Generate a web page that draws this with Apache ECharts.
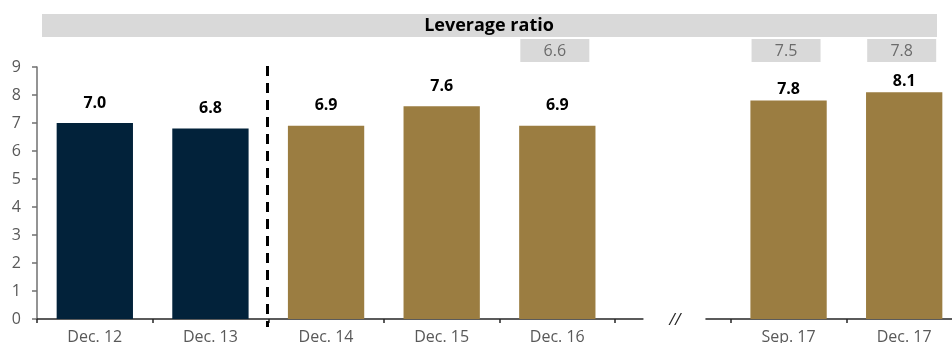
<!DOCTYPE html>
<html>
<head>
<meta charset="utf-8">
<script src="https://cdn.jsdelivr.net/npm/echarts@6/dist/echarts.min.js"></script>
<style>
  html, body { margin: 0; padding: 0; background: #ffffff; overflow: hidden; }
  #chart { width: 952px; height: 343px; }
</style>
</head>
<body>
<div id="chart"></div>
<script>
// Periods on the x axis; the empty slot holds the axis break between Dec. 16 and Sep. 17
const categories = ['Dec. 12', 'Dec. 13', 'Dec. 14', 'Dec. 15', 'Dec. 16', '', 'Sep. 17', 'Dec. 17'];
// Leverage ratio on the earlier basis (dark bars)
const previousBasis = [7.0, 6.8, null, null, null, null, null, null];
// Leverage ratio on the current basis (gold bars)
const currentBasis = [null, null, 6.9, 7.6, 6.9, null, 7.8, 8.1];
// Values shown in the grey boxes above selected periods
const boxedValues = [null, null, null, null, 6.6, null, 7.5, 7.8];
// Value axis range
const yMin = 0, yMax = 9, yStep = 1;
// Index of the last period before the dashed separator
const dividerAfter = 1;
// Index of the empty slot where the axis is broken
const breakIndex = 5;

const FONT = '"Open Sans", "Noto Sans", sans-serif';
const NAVY = '#02223a';
const GOLD = '#9b7d41';

const chart = echarts.init(document.getElementById('chart'), null, { renderer: 'canvas' });

const barLabel = {
  show: true,
  position: 'top',
  distance: 12,
  color: '#000000',
  fontFamily: FONT,
  fontSize: 16,
  fontWeight: 'bold',
  formatter: p => Number(p.value).toFixed(1)
};

// tall bars sitting under a grey box get their value label tucked closer to the bar
const barData = (values) => values.map((v, i) => {
  if (v == null) return null;
  if (boxedValues[i] != null && v > 7.7) return { value: v, label: { distance: 3 } };
  return v;
});

chart.setOption({
  animation: false,
  backgroundColor: '#ffffff',
  graphic: [
    {
      type: 'rect',
      x: 42, y: 14,
      shape: { width: 895, height: 23 },
      style: { fill: '#d9d9d9' },
      z: 0
    },
    {
      type: 'text',
      x: 489, y: 25.5,
      style: {
        text: 'Leverage ratio',
        fill: '#000000',
        font: 'bold 18px ' + FONT,
        align: 'center',
        verticalAlign: 'middle'
      },
      z: 1
    }
  ],
  // the plot runs slightly past the right edge of the canvas
  grid: { left: 37, width: 925, top: 67, bottom: 24, containLabel: false, outerBoundsMode: 'none' },
  xAxis: {
    type: 'category',
    data: categories,
    boundaryGap: true,
    axisLine: { show: true, lineStyle: { color: '#262626', width: 1.5 } },
    axisTick: { show: true, interval: 0, length: 4, lineStyle: { color: '#262626', width: 1.5 } },
    axisLabel: { interval: 0, color: '#595959', fontFamily: FONT, fontSize: 16, margin: 10 },
    splitLine: { show: false }
  },
  yAxis: {
    type: 'value',
    min: yMin, max: yMax, interval: yStep,
    axisLine: { show: true, lineStyle: { color: '#707070', width: 1.5 } },
    axisTick: { show: true, inside: false, length: 5, lineStyle: { color: '#707070', width: 1.5 } },
    axisLabel: { color: '#595959', fontFamily: FONT, fontSize: 16, margin: 16 },
    splitLine: { show: false }
  },
  series: [
    {
      name: 'Previous basis',
      type: 'bar',
      data: barData(previousBasis),
      barWidth: '66%',
      barGap: '-100%',
      itemStyle: { color: NAVY },
      label: barLabel,
      z: 2
    },
    {
      name: 'Current basis',
      type: 'bar',
      data: barData(currentBasis),
      barWidth: '66%',
      barGap: '-100%',
      itemStyle: { color: GOLD },
      label: barLabel,
      z: 2
    },
    {
      // grey value boxes placed above the plot area
      name: 'Boxed values',
      type: 'custom',
      clip: false,
      data: boxedValues.map((v, i) => (v == null ? null : [i, v])).filter(d => d),
      encode: { x: 0, y: 1 },
      renderItem: (params, api) => {
        const top = api.coord([api.value(0), yMax]);
        const w = 69, h = 23;
        const cx = top[0] - 2.5;
        const y0 = top[1] - 28;
        return {
          type: 'group',
          children: [
            { type: 'rect', shape: { x: cx - w / 2, y: y0, width: w, height: h }, style: { fill: '#d9d9d9' } },
            {
              type: 'text',
              style: {
                text: Number(api.value(1)).toFixed(1),
                x: cx, y: y0 + h / 2 + 0.5,
                align: 'center', verticalAlign: 'middle',
                font: '16px ' + FONT,
                fill: '#6b6b6b'
              }
            }
          ]
        };
      },
      z: 3
    },
    {
      // dashed separator between the two reporting bases
      name: 'Separator',
      type: 'custom',
      clip: false,
      data: [[dividerAfter, yMax]],
      encode: { x: 0, y: 1 },
      renderItem: (params, api) => {
        const band = api.size([1, 0])[0];
        const top = api.coord([api.value(0), yMax]);
        const bottom = api.coord([api.value(0), yMin]);
        const x = Math.round(top[0] + band / 2) - 0.5;
        return {
          type: 'line',
          shape: { x1: x, y1: top[1] - 1, x2: x, y2: bottom[1] + 8 },
          style: { stroke: '#000000', lineWidth: 3, lineDash: [10, 7] }
        };
      },
      z: 4
    },
    {
      // break in the category axis
      name: 'Axis break',
      type: 'custom',
      clip: false,
      data: [[breakIndex, yMin]],
      encode: { x: 0, y: 1 },
      renderItem: (params, api) => {
        const p = api.coord([api.value(0), yMin]);
        return {
          type: 'group',
          children: [
            { type: 'rect', shape: { x: p[0] - 29.5, y: p[1] - 3, width: 62, height: 6 }, style: { fill: '#ffffff' } },
            {
              type: 'text',
              style: {
                text: '//',
                x: p[0] + 2, y: p[1] + 1,
                align: 'center', verticalAlign: 'middle',
                font: 'italic 16px ' + FONT,
                fill: '#262626'
              }
            }
          ]
        };
      },
      z: 4
    }
  ]
});
</script>
</body>
</html>
